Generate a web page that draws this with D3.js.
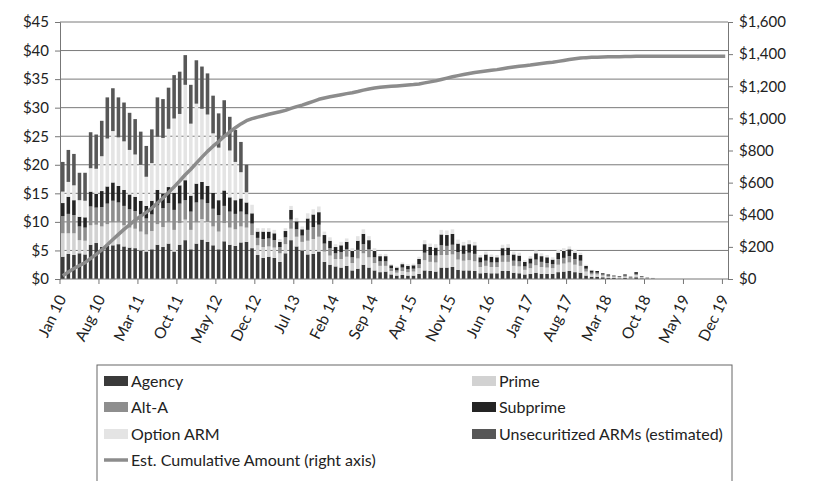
<!DOCTYPE html>
<html><head><meta charset="utf-8">
<script src="https://cdn.jsdelivr.net/npm/d3@7"></script>
<style>
body{margin:0;background:#fff}
text{font-family:Lato,"Open Sans","Liberation Sans",sans-serif;fill:#222}
</style>
</head><body>
<svg id="c" width="814" height="481"></svg>
<script>
// ---------- DATA ----------
const monthNames = ["Jan","Feb","Mar","Apr","May","Jun","Jul","Aug","Sep","Oct","Nov","Dec"];
const years = ["10","11","12","13","14","15","16","17","18","19"];
const categories = years.flatMap(y => monthNames.map(m => m + " " + y));
const tickLabels = ["Jan 10","Aug 10","Mar 11","Oct 11","May 12","Dec 12","Jul 13","Feb 14","Sep 14","Apr 15","Nov 15","Jun 16","Jan 17","Aug 17","Mar 18","Oct 18","May 19","Dec 19"];
const leftTicks = [0,5,10,15,20,25,30,35,40,45];
const rightTicks = [0,200,400,600,800,1000,1200,1400,1600];
const seriesNames = ["Agency","Prime","Alt-A","Subprime","Option ARM","Unsecuritized ARMs (estimated)"];
const lineName = "Est. Cumulative Amount (right axis)";

const agency = [3.9,4.4,4.2,4.5,4.3,6.0,6.3,5.6,5.8,5.9,6.1,5.7,
  5.5,5.4,5.0,4.8,5.2,6.0,5.6,6.2,4.8,6.0,6.8,5.2,
  6.2,6.9,6.5,5.9,5.2,6.6,6.0,5.8,6.4,6.5,5.4,4.2,
  3.7,3.9,3.7,3.0,4.5,6.8,5.7,5.0,4.3,4.4,4.8,3.0,
  2.5,2.2,2.0,2.3,1.5,1.8,2.5,2.0,1.5,1.2,1.3,0.8,
  0.6,0.7,0.6,0.6,0.9,1.5,1.4,1.3,2.0,2.0,2.1,1.6,
  1.5,1.5,1.4,1.0,1.1,1.0,1.0,1.4,1.4,1.1,1.0,0.8,
  0.9,1.1,0.9,0.9,0.9,1.2,1.3,1.4,1.2,1.1,0.6,0.4,
  0.4,0.3,0.2,0.2,0.1,0.2,0.1,0.3,0.1,0.1,0.1,0,
  0,0,0,0,0,0,0,0,0,0,0,0];
const prime = [4.1,3.6,3.8,2.3,2.4,3.4,3.2,3.6,3.8,4.0,3.8,3.7,
  3.5,3.4,3.3,3.0,3.2,3.6,3.5,3.7,3.8,3.8,3.6,3.4,
  3.7,3.6,3.5,3.3,3.1,3.2,3.0,2.9,2.8,2.5,2.3,1.7,
  1.9,1.8,1.8,1.5,1.6,2.0,1.7,1.5,2.4,2.6,2.6,1.8,
  1.6,1.3,1.5,1.6,1.3,1.8,2.0,1.8,1.3,1.1,1.0,0.6,
  0.5,0.7,0.6,0.7,1.0,1.8,1.6,1.6,2.2,2.2,2.2,1.8,
  1.7,1.8,1.7,1.1,1.2,1.1,1.1,1.6,1.6,1.2,1.2,0.8,
  1.0,1.3,1.2,1.1,1.0,1.3,1.4,1.5,1.3,1.2,0.7,0.4,
  0.4,0.3,0.2,0.2,0.2,0.2,0.1,0.4,0.2,0.1,0.1,0,
  0,0,0,0,0,0,0,0,0,0,0,0];
const altA = [3.0,3.4,3.2,2.4,2.3,3.3,3.0,3.4,3.6,3.8,3.5,3.4,
  3.2,3.1,3.0,2.8,2.9,3.3,3.3,3.4,3.5,3.4,3.4,3.2,
  3.5,3.4,3.3,3.1,2.9,3.0,2.8,2.7,2.6,2.3,2.0,1.3,
  1.4,1.4,1.3,1.1,1.2,1.6,1.3,1.1,1.9,2.1,2.1,1.4,
  1.3,1.0,1.2,1.3,1.0,1.5,1.6,1.4,1.0,0.8,0.8,0.5,
  0.4,0.6,0.5,0.5,0.7,1.3,1.2,1.2,1.7,1.6,1.7,1.3,
  1.2,1.3,1.3,0.8,0.9,0.8,0.8,1.1,1.2,0.9,0.9,0.6,
  0.8,1.0,0.9,0.8,0.7,1.0,1.0,1.1,1.0,0.9,0.5,0.3,
  0.3,0.2,0.2,0.1,0.1,0.2,0.1,0.2,0.1,0.1,0,0,
  0,0,0,0,0,0,0,0,0,0,0,0];
const subprime = [2.3,3.0,2.6,1.7,1.8,2.6,2.4,2.8,3.0,3.2,2.9,2.8,
  2.6,2.5,2.4,2.2,2.4,2.7,2.6,2.8,3.0,3.2,3.5,2.8,
  3.3,3.1,3.0,2.8,2.6,2.7,2.5,2.4,2.3,2.1,1.8,1.1,
  1.3,1.2,1.2,0.9,1.1,1.7,1.4,1.1,2.0,2.2,2.2,1.5,
  1.3,1.1,1.2,1.3,1.1,1.6,1.8,1.6,1.1,0.9,0.9,0.5,
  0.5,0.6,0.6,0.6,0.9,1.5,1.4,1.4,1.9,1.9,1.9,1.5,
  1.5,1.5,1.5,0.9,1.1,1.0,0.9,1.3,1.3,1.1,1.0,0.8,
  0.9,1.1,1.0,1.0,0.8,1.1,1.2,1.2,1.1,1.0,0.5,0.4,
  0.3,0.2,0.2,0.1,0.1,0.2,0.1,0.3,0.1,0,0,0,
  0,0,0,0,0,0,0,0,0,0,0,0];
const optionArm = [2.0,2.6,2.6,2.9,2.9,4.1,4.4,6.1,8.4,9.0,8.5,8.5,
  7.8,7.4,6.3,5.1,6.6,9.3,9.7,10.2,13.0,12.5,16.7,12.6,
  14.0,12.8,12.5,10.4,9.2,9.4,8.2,6.7,4.6,1.8,1.5,0.6,
  0.6,0.6,0.6,0.5,0.5,0.7,0.6,0.5,0.9,0.9,1.0,0.6,
  0.6,0.5,0.6,0.6,0.5,0.8,0.8,0.7,0.5,0.4,0.4,0.2,
  0.2,0.3,0.3,0.3,0.4,0.7,0.6,0.6,0.8,0.8,0.8,0.7,
  0.6,0.7,0.6,0.4,0.5,0.4,0.4,0.6,0.6,0.5,0.5,0.3,
  0.4,0.5,0.5,0.4,0.4,0.5,0.5,0.5,0.5,0.4,0.2,0.1,
  0,0,0,0,0,0,0,0,0,0,0,0,
  0,0,0,0,0,0,0,0,0,0,0,0];
const unsecuritized = [5.2,5.6,5.5,4.8,4.9,6.3,6.0,6.2,7.2,7.5,7.0,6.8,
  6.5,6.2,5.8,5.4,5.9,6.9,6.8,7.2,7.6,7.4,5.2,6.8,
  7.6,7.4,7.2,6.6,6.0,6.4,5.9,5.6,5.3,4.8,0,0,
  0,0,0,0,0,0,0,0,0,0,0,0,
  0,0,0,0,0,0,0,0,0,0,0,0,
  0,0,0,0,0,0,0,0,0,0,0,0,
  0,0,0,0,0,0,0,0,0,0,0,0,
  0,0,0,0,0,0,0,0,0,0,0,0,
  0,0,0,0,0,0,0,0,0,0,0,0,
  0,0,0,0,0,0,0,0,0,0,0,0];

const seriesData = [agency, prime, altA, subprime, optionArm, unsecuritized];
const colors = ["#3a3a3a","#d2d2d2","#8e8e8e","#242424","#e4e4e4","#575757"];
const lineColor = "#8c8c8c";

// ---------- LAYOUT ----------
const svg = d3.select("#c");
const L = 60, R = 728, T = 22, B = 279;

const rows = categories.map((c, i) => {
  const o = {cat: c};
  seriesNames.forEach((s, k) => o[s] = seriesData[k][i]);
  return o;
});
const totals = rows.map(r => d3.sum(seriesNames, s => r[s]));
const cumulative = Array.from(d3.cumsum(totals));

const x = d3.scaleBand().domain(categories).range([L, R]).paddingInner(0.36).paddingOuter(0.18);
const yL = d3.scaleLinear().domain([0, 45]).range([B, T]);
const yR = d3.scaleLinear().domain([0, 1600]).range([B, T]);
const step = x.step();
const bnd = i => L + i * step;

// gridlines
svg.append("g").selectAll("line").data(leftTicks.filter(d => d > 0)).join("line")
  .attr("x1", L).attr("x2", R).attr("y1", d => yL(d)).attr("y2", d => yL(d))
  .attr("stroke", "#7a7a7a").attr("stroke-width", 1);

// bars
const stack = d3.stack().keys(seriesNames)(rows);
svg.append("g").selectAll("g").data(stack).join("g")
  .attr("fill", (d, i) => colors[i])
  .selectAll("rect").data(d => d).join("rect")
  .attr("x", d => x(d.data.cat)).attr("width", x.bandwidth())
  .attr("y", d => yL(d[1])).attr("height", d => Math.max(0, yL(d[0]) - yL(d[1])));

// line
svg.append("path").datum(cumulative)
  .attr("fill", "none").attr("stroke", lineColor).attr("stroke-width", 3.5)
  .attr("stroke-linejoin", "round")
  .attr("d", d3.line().x((d, i) => x(categories[i]) + x.bandwidth() / 2).y(d => yR(d)));

// axes
const axL = d3.axisLeft(yL).tickValues(leftTicks).tickSize(5).tickPadding(6).tickFormat(d => "$" + d);
const axR = d3.axisRight(yR).tickValues(rightTicks).tickSize(5).tickPadding(6).tickFormat(d => "$" + d3.format(",")(d));
const gL = svg.append("g").attr("transform", `translate(${L},0)`).call(axL);
const gR = svg.append("g").attr("transform", `translate(${R},0)`).call(axR);
[gL, gR].forEach(g => {
  g.select(".domain").attr("stroke", "#777");
  g.selectAll(".tick line").attr("stroke", "#777");
  g.selectAll("text").attr("font-size", 15).attr("fill", "#222")
    .style("font-family", "Lato, 'Open Sans', sans-serif");
});

// bottom axis
svg.append("line").attr("x1", L).attr("x2", R).attr("y1", B).attr("y2", B).attr("stroke", "#777");
const tickIdx = tickLabels.map(t => categories.indexOf(t));
svg.append("g").selectAll("line").data(tickIdx).join("line")
  .attr("x1", i => bnd(i)).attr("x2", i => bnd(i)).attr("y1", B).attr("y2", B + 5)
  .attr("stroke", "#777");
svg.append("g").selectAll("text").data(tickLabels).join("text")
  .attr("transform", t => `translate(${x(t) + x.bandwidth() / 2 - 1},${B + 17}) rotate(-64)`)
  .attr("text-anchor", "end").attr("dy", "0.35em").attr("font-size", 15.5)
  .text(t => t);

// legend
const lg = svg.append("g");
lg.append("rect").attr("x", 97).attr("y", 365).attr("width", 635).attr("height", 130)
  .attr("fill", "#fff").attr("stroke", "#666").attr("stroke-width", 1);
const colX = [104, 472];
const rowY = [381, 407, 434];
seriesNames.forEach((s, k) => {
  const cx = colX[k % 2], cy = rowY[Math.floor(k / 2)];
  lg.append("rect").attr("x", cx).attr("y", cy - 5).attr("width", 24).attr("height", 10).attr("fill", colors[k]);
  lg.append("text").attr("x", cx + 27).attr("y", cy).attr("dy", "0.35em").attr("font-size", 16).text(s);
});
lg.append("line").attr("x1", 104).attr("x2", 128).attr("y1", 460).attr("y2", 460)
  .attr("stroke", lineColor).attr("stroke-width", 3.5);
lg.append("text").attr("x", 131).attr("y", 460).attr("dy", "0.35em").attr("font-size", 16).text(lineName);
</script>
</body></html>
